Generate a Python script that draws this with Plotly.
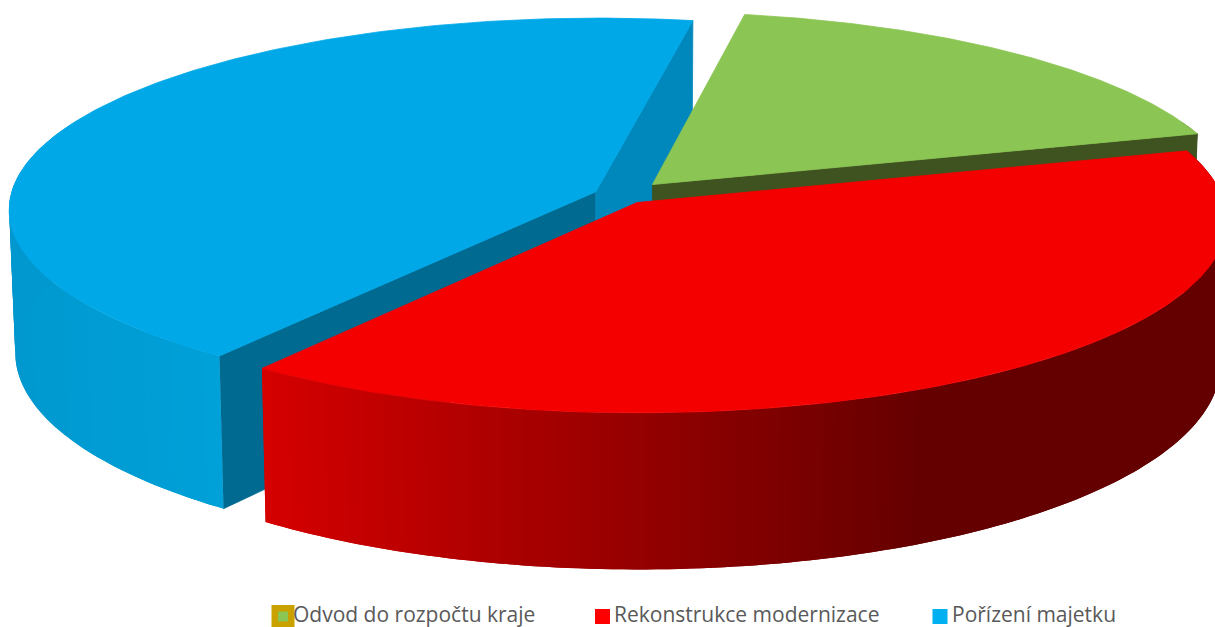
import math
import plotly.graph_objects as go

# ---- data ----
categories = ["Odvod do rozpočtu kraje", "Rekonstrukce modernizace", "Pořízení majetku"]
shares = [17.7, 39.6, 42.7]
explode = [0.078, 0.045, 0.049]

# ---- styling ----
START_ANGLE = 10.2
TOP = ["#8BC553", "#F40000", "#00A8E8"]
LEGEND_COL = ["#C9A200", "#FF0000", "#00B0F0"]
FACE_END = ["#3F5320", None, "#0088BC"]    # cut face at the slice's end angle
FACE_START = [None, None, "#006A90"]       # cut face at the slice's start angle

# ---- projection (pixel-mapped axes) ----
CX, CY = 622, 195.5
RX, RY = 585, 190
K, H, S = 0.09, 142, 0.99


def proj(X, Y, z=0):
    f = 1 / (1 + K * Y)
    sx = S if z else 1
    return CX + RX * X * f * sx, CY - RY * Y * f + H * f * z


def slice_geo(i):
    a0 = START_ANGLE + sum(shares[:i]) * 3.6
    a1 = a0 + shares[i] * 3.6
    mid = math.radians((a0 + a1) / 2)
    return a0, a1, explode[i] * math.sin(mid), explode[i] * math.cos(mid)


def rim(a, c0):
    t = math.radians(a)
    return c0[0] + math.sin(t), c0[1] + math.cos(t)


def wall_colour(i, a):
    u = math.sin(math.radians(a))
    if i == 1:
        t = min(1, max(0, (u + 0.6) / 1.05))
        return f"rgb({round(214 - 114 * t)},0,0)"
    if i == 2:
        t = min(1, max(0, (-u - 0.6) / 0.4))
        return f"rgb(0,{round(160 - 8 * t)},{round(216 - 10 * t)})"
    return "#3F5320"


def poly(fig, pts, colour, edge=True):
    xs = [p[0] for p in pts] + [pts[0][0]]
    ys = [p[1] for p in pts] + [pts[0][1]]
    fig.add_trace(go.Scatter(x=xs, y=ys, mode="lines" if edge else "none", fill="toself", fillcolor=colour,
                             line=dict(color=colour, width=0.8), hoverinfo="skip", showlegend=False))


def draw_slice(fig, i):
    a0, a1, ox, oy = slice_geo(i)
    c0 = (ox, oy)
    # cut faces
    for a, col in ((a0, FACE_START[i]), (a1, FACE_END[i])):
        if col:
            r = rim(a, c0)
            poly(fig, [proj(ox, oy), proj(*r), proj(*r, 1), proj(ox, oy, 1)], col)
    # outer wall, in overlapping bands so that no seams show
    n = int(a1 - a0)
    step = (a1 - a0) / n
    for j in range(n):
        b0 = a0 + step * j
        b1 = min(a1, b0 + 2 * step)
        if math.cos(math.radians(b0 + step / 2)) > 0.35:
            continue
        r0, rm, r1 = rim(b0, c0), rim((b0 + b1) / 2, c0), rim(b1, c0)
        poly(fig, [proj(*r0), proj(*rm), proj(*r1), proj(*r1, 1), proj(*rm, 1), proj(*r0, 1)],
             wall_colour(i, b0 + step / 2), edge=False)
    # top
    pts = [proj(ox, oy)]
    m = 200
    for j in range(m + 1):
        pts.append(proj(*rim(a0 + (a1 - a0) * j / m, c0)))
    poly(fig, pts, TOP[i])


fig = go.Figure()
for idx in (2, 0, 1):
    draw_slice(fig, idx)

# legend drawn as real text beneath the pie
LEG_X = [283, 602.5, 940]
LEG_TEXT_X = [293, 614, 952]
LEG_SIZE = [23, 15, 15]
LEG_Y = 616.5
LEG_TEXT_Y = 617
for name, x0, tx, sz, col in zip(categories, LEG_X, LEG_TEXT_X, LEG_SIZE, LEGEND_COL):
    fig.add_trace(go.Scatter(x=[x0], y=[LEG_Y], mode="markers",
                             marker=dict(symbol="square", size=sz, color=col), cliponaxis=False,
                             hoverinfo="skip", showlegend=False))
    fig.add_trace(go.Scatter(x=[tx], y=[LEG_TEXT_Y], mode="text", text=[name],
                             textposition="middle right",
                             textfont=dict(family="Open Sans, sans-serif", size=21, color="#595959"),
                             cliponaxis=False, hoverinfo="skip", showlegend=False))
fig.add_trace(go.Scatter(x=[LEG_X[0]], y=[LEG_Y], mode="markers",
                         marker=dict(symbol="square", size=10, color=TOP[0]),
                         hoverinfo="skip", showlegend=False))

fig.update_layout(width=1215, height=627, margin=dict(l=0, r=0, t=0, b=0),
                  paper_bgcolor="white", plot_bgcolor="white", showlegend=False,
                  xaxis=dict(range=[0, 1215], visible=False, fixedrange=True),
                  yaxis=dict(range=[627, 0], visible=False, fixedrange=True))
fig.write_html("out.html", config={"displayModeBar": False},
               post_script="document.body.style.margin='0';document.body.style.overflow='hidden';")
